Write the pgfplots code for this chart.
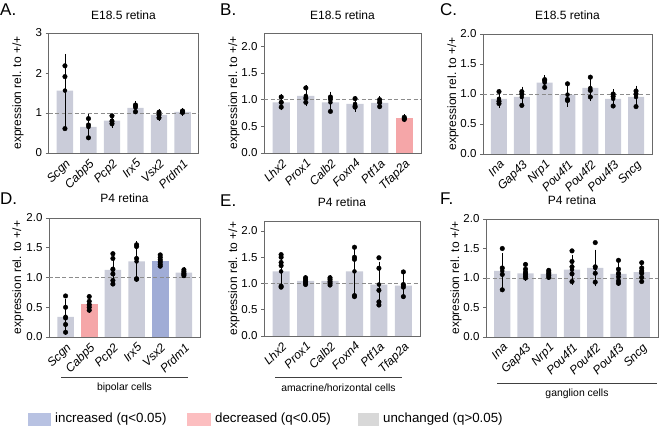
\documentclass[border=0pt]{standalone}
\usepackage{fontspec}
\setmainfont{Liberation Sans}
\usepackage{pgfplots}
\pgfplotsset{compat=1.18}
\newcommand\fs[1]{\fontsize{#1}{#1}\selectfont}
\definecolor{gbar}{RGB}{202,204,217}
\definecolor{bbar}{RGB}{160,172,214}
\definecolor{rbar}{RGB}{245,166,168}
\definecolor{lgblue}{RGB}{184,194,226}
\definecolor{lgred}{RGB}{252,190,192}
\definecolor{lggrey}{RGB}{216,216,216}
\definecolor{axgray}{RGB}{105,105,105}
\definecolor{dgray}{RGB}{140,140,140}
\pgfplotsset{
  panel/.style={
    scale only axis, anchor=south west,
    axis line style={draw=axgray, line width=0.8pt},
    ymin=0,
    ytick pos=left, tick align=outside, major tick length=3pt,
    ytick style={draw=axgray, line width=0.8pt},
    xtick style={draw=none},
    /pgf/number format/assume math mode=true,
    yticklabel style={font=\fs{11.5}, /pgf/number format/.cd, fixed, fixed zerofill, precision=1},
    xticklabel style={font=\itshape\fs{12}, rotate=45, anchor=north east, inner sep=1.5pt},
    title style={font=\fs{12}, at={(0.5,1)}, anchor=center},
  },
  bars/.style={ybar, bar width=0.7, fill=gbar, draw=none},
  dline/.style={dgray, dashed, line width=0.8pt, dash pattern=on 4pt off 2.5pt},
  ebar/.style={only marks, mark=none, error bars/.cd, y dir=both, y explicit,
     error bar style={black, line width=0.6pt},
     error mark options={black, line width=0.6pt, mark size=3pt}},
  pts/.style={only marks, mark=*, mark size=2.3pt, black},
}
\begin{document}
\begin{tikzpicture}
\useasboundingbox (0pt,0pt) rectangle (667pt,-427pt);
% ---------------- A
\begin{axis}[panel, at={(48.5pt,-153pt)}, width=150pt, height=120pt,
  xmin=-0.7, xmax=5.68, ymax=3, ytick={0,1,2,3},
  yticklabel style={/pgf/number format/precision=0},
  xtick={0,...,5}, xticklabels={Scgn,Cabp5,Pcp2,Irx5,Vsx2,Prdm1},
  title={E18.5 retina}, title style={yshift=12pt}]
\addplot[bars] coordinates {(0,1.56) (1,0.65) (2,0.81) (3,1.13) (4,0.95) (5,1.03)};
\addplot[dline] coordinates {(-0.7,1) (5.68,1)};
\addplot[ebar] coordinates {(0,1.56) +- (0,0.84) (1,0.65) +- (0,0.24) (2,0.81) +- (0,0.10) (3,1.13) +- (0,0.09) (4,0.95) +- (0,0.07) (5,1.03) +- (0,0.02)};
\addplot[pts] coordinates {(0,2.18) (0,1.91) (0,0.61) (1,0.86) (1,0.70) (1,0.38) (2,0.93) (2,0.79) (2,0.73) (3,1.20) (3,1.17) (3,1.03) (4,1.02) (4,0.96) (4,0.88) (5,1.05) (5,1.03) (5,1.01)};
\end{axis}
% ---------------- B
\begin{axis}[panel, at={(264pt,-153pt)}, width=157pt, height=120pt,
  xmin=-0.7, xmax=5.68, ymax=2.25, ytick={0,0.5,1,1.5,2},
  xtick={0,...,5}, xticklabels={Lhx2,Prox1,Calb2,Foxn4,Ptf1a,Tfap2a},
  title={E18.5 retina}, title style={yshift=12pt}]
\addplot[bars] coordinates {(0,0.95) (1,1.07) (2,0.95) (3,0.92) (4,0.94)};
\addplot[bars, fill=rbar] coordinates {(5,0.65)};
\addplot[dline] coordinates {(-0.7,1) (5.68,1)};
\addplot[ebar] coordinates {(0,0.95) +- (0,0.095) (1,1.07) +- (0,0.14) (2,0.95) +- (0,0.145) (3,0.92) +- (0,0.087) (4,0.94) +- (0,0.066) (5,0.65) +- (0,0.02)};
\addplot[pts] coordinates {(0,1.05) (0,0.95) (0,0.86) (1,1.22) (1,1.03) (1,0.95) (2,1.05) (2,1.01) (2,0.78) (3,1.02) (3,0.88) (3,0.86) (4,1.00) (4,0.95) (4,0.87) (5,0.67) (5,0.645) (5,0.63)};
\end{axis}
% ---------------- C
\begin{axis}[panel, at={(483pt,-154pt)}, width=169pt, height=120pt,
  xmin=-0.7, xmax=6.7, ymax=2, ytick={0,0.5,1,1.5,2},
  xtick={0,...,6}, xticklabels={Ina,Gap43,Nrp1,Pou4f1,Pou4f2,Pou4f3,Sncg},
  title={E18.5 retina}, title style={yshift=13pt}]
\addplot[bars] coordinates {(0,0.92) (1,0.95) (2,1.19) (3,0.99) (4,1.10) (5,0.92) (6,0.95)};
\addplot[dline] coordinates {(-0.7,1) (6.7,1)};
\addplot[ebar] coordinates {(0,0.92) +- (0,0.106) (1,0.95) +- (0,0.123) (2,1.19) +- (0,0.07) (3,0.99) +- (0,0.156) (4,1.10) +- (0,0.168) (5,0.92) +- (0,0.106) (6,0.95) +- (0,0.138)};
\addplot[pts] coordinates {(0,1.04) (0,0.88) (0,0.84) (1,1.04) (1,1.00) (1,0.81) (2,1.24) (2,1.22) (2,1.11) (3,1.17) (3,0.91) (3,0.89) (4,1.28) (4,1.06) (4,0.95) (5,1.00) (5,0.96) (5,0.80) (6,1.05) (6,1.00) (6,0.79)};
\end{axis}
% ---------------- D
\begin{axis}[panel, at={(49pt,-337pt)}, width=151pt, height=119pt,
  xmin=-0.7, xmax=5.68, ymax=2, ytick={0,0.5,1,1.5,2},
  xtick={0,...,5}, xticklabels={Scgn,Cabp5,Pcp2,Irx5,Vsx2,Prdm1},
  title={P4 retina}, title style={yshift=14pt}]
\addplot[bars] coordinates {(0,0.34) (2,1.13) (3,1.27) (5,1.08)};
\addplot[bars, fill=rbar] coordinates {(1,0.55)};
\addplot[bars, fill=bbar] coordinates {(4,1.28)};
\addplot[dline] coordinates {(-0.7,1) (5.68,1)};
\addplot[ebar] coordinates {(0,0.34) +- (0,0.25) (1,0.55) +- (0,0.09) (2,1.13) +- (0,0.20) (3,1.27) +- (0,0.29) (4,1.28) +- (0,0.07) (5,1.08) +- (0,0.04)};
\addplot[pts] coordinates {(0,0.69) (0,0.50) (0,0.32) (0,0.21) (0,0.08) (1,0.68) (1,0.60) (1,0.54) (1,0.50) (1,0.45) (2,1.40) (2,1.32) (2,1.14) (2,1.06) (2,0.95) (2,0.89) (3,1.55) (3,1.52) (3,1.32) (3,0.98) (3,0.97) (4,1.38) (4,1.34) (4,1.30) (4,1.26) (4,1.22) (4,1.19) (5,1.13) (5,1.10) (5,1.07) (5,1.05) (5,1.03)};
\end{axis}
% ---------------- E
\begin{axis}[panel, at={(264pt,-336pt)}, width=156pt, height=115pt,
  xmin=-0.7, xmax=5.68, ymax=2.19, ytick={0,0.5,1,1.5,2},
  xtick={0,...,5}, xticklabels={Lhx2,Prox1,Calb2,Foxn4,Ptf1a,Tfap2a},
  title={P4 retina}, title style={yshift=13pt}]
\addplot[bars] coordinates {(0,1.23) (1,1.05) (2,1.05) (3,1.23) (4,0.98) (5,0.96)};
\addplot[dline] coordinates {(-0.7,1) (5.68,1)};
\addplot[ebar] coordinates {(0,1.23) +- (0,0.25) (1,1.05) +- (0,0.05) (2,1.05) +- (0,0.05) (3,1.23) +- (0,0.44) (4,0.98) +- (0,0.38) (5,0.96) +- (0,0.18)};
\addplot[pts] coordinates {(0,1.55) (0,1.50) (0,1.40) (0,1.34) (0,0.95) (0,0.93) (1,1.11) (1,1.08) (1,1.04) (1,1.01) (1,0.98) (2,1.11) (2,1.08) (2,1.04) (2,1.01) (2,0.97) (3,1.69) (3,1.50) (3,1.46) (3,0.77) (3,0.75) (4,1.49) (4,1.29) (4,0.87) (4,0.65) (4,0.59) (5,1.22) (5,0.98) (5,0.93) (5,0.75)};
\end{axis}
% ---------------- F
\begin{axis}[panel, at={(486pt,-337pt)}, width=172pt, height=118pt,
  xmin=-0.7, xmax=6.7, ymax=2, ytick={0,0.5,1,1.5,2},
  xtick={0,...,6}, xticklabels={Ina,Gap43,Nrp1,Pou4f1,Pou4f2,Pou4f3,Sncg},
  title={P4 retina}, title style={yshift=12.3pt}]
\addplot[bars] coordinates {(0,1.12) (1,1.08) (2,1.07) (3,1.14) (4,1.17) (5,1.07) (6,1.10)};
\addplot[dline] coordinates {(-0.7,1) (6.7,1)};
\addplot[ebar] coordinates {(0,1.12) +- (0,0.25) (1,1.08) +- (0,0.08) (2,1.07) +- (0,0.05) (3,1.14) +- (0,0.20) (4,1.17) +- (0,0.26) (5,1.07) +- (0,0.15) (6,1.10) +- (0,0.10)};
\addplot[pts] coordinates {(0,1.50) (0,1.17) (0,1.06) (0,0.80) (1,1.23) (1,1.15) (1,1.10) (1,1.06) (1,1.03) (1,1.00) (2,1.13) (2,1.10) (2,1.07) (2,1.04) (2,1.01) (3,1.46) (3,1.28) (3,1.19) (3,1.07) (3,0.94) (4,1.60) (4,1.19) (4,1.08) (4,0.93) (5,1.30) (5,1.15) (5,1.08) (5,1.02) (5,0.95) (5,0.91) (6,1.26) (6,1.17) (6,1.12) (6,1.08) (6,1.01) (6,0.94)};
\end{axis}
% ---------------- labels
\node[font=\fs{17}, anchor=base west, inner sep=0pt] at (0pt,-15.7pt) {A.};
\node[font=\fs{17}, anchor=base west, inner sep=0pt] at (220pt,-15.7pt) {B.};
\node[font=\fs{17}, anchor=base west, inner sep=0pt] at (440pt,-15.7pt) {C.};
\node[font=\fs{17}, anchor=base west, inner sep=0pt] at (0pt,-205pt) {D.};
\node[font=\fs{17}, anchor=base west, inner sep=0pt] at (220pt,-207pt) {E.};
\node[font=\fs{17}, anchor=base west, inner sep=0pt] at (440pt,-205pt) {F.};
\foreach \x/\y in {18/93, 234/93, 453/94, 18/277.5, 234/278.5, 456/278}
  \node[rotate=90, font=\fs{12}] at (\x pt,-\y pt) {expression rel. to +/+};
% group labels
\draw[black!75, line width=0.8pt] (61pt,-377pt) -- (188pt,-377pt);
\node[font=\fs{10.4}] at (124.5pt,-388pt) {bipolar cells};
\draw[black!75, line width=0.8pt] (275pt,-377pt) -- (402pt,-377pt);
\node[font=\fs{10.4}] at (338.5pt,-388pt) {amacrine/horizontal cells};
\draw[black!75, line width=0.8pt] (497pt,-383pt) -- (657pt,-383pt);
\node[font=\fs{10.4}] at (577pt,-394pt) {ganglion cells};
% legend
\fill[lgblue] (28pt,-413pt) rectangle (51pt,-426pt);
\node[font=\fs{13.3}, anchor=west, inner sep=0pt] at (55pt,-419.5pt) {increased (q<0.05)};
\fill[lgred] (187pt,-413pt) rectangle (211pt,-426pt);
\node[font=\fs{13.3}, anchor=west, inner sep=0pt] at (215pt,-419.5pt) {decreased (q<0.05)};
\fill[lggrey] (358pt,-413pt) rectangle (379pt,-426pt);
\node[font=\fs{13.3}, anchor=west, inner sep=0pt] at (383pt,-419.5pt) {unchanged (q>0.05)};
\end{tikzpicture}
\end{document}
